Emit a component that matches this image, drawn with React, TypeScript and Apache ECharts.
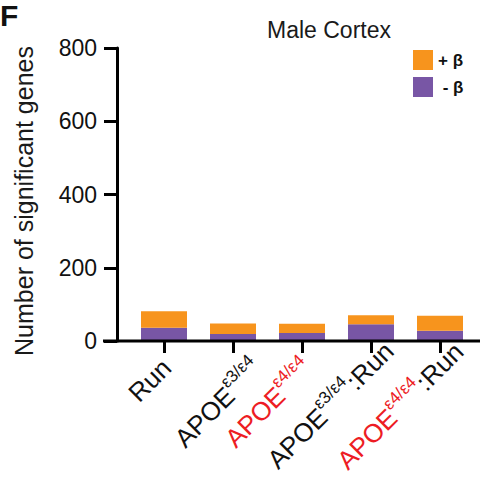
import React, { useEffect, useRef } from "react";
import * as echarts from "echarts";

// Categories on the x axis and their rich-text bodies (superscript genotypes)
const categories = ["Run", "APOE ε3/ε4", "APOE ε4/ε4", "APOE ε3/ε4:Run", "APOE ε4/ε4:Run"];
const categoryBodies = [
  "{b|Run}",
  "{b|APOE}{bs|ε3/ε4}",
  "{r|APOE}{rs|ε4/ε4}",
  "{b|APOE}{bs|ε3/ε4}{b|:Run}",
  "{r|APOE}{rs|ε4/ε4}{b|:Run}",
];

// Number of significant genes, split by sign of the coefficient
const minusBeta = [36, 19, 22, 46, 28];
const plusBeta = [45, 29, 25, 24, 41];

const yTicks = [0, 200, 400, 600, 800];

// Per-label nudges for the slanted category labels: [drop, pull-back] in px
const labelNudge: [number, number][] = [
  [9, 23],
  [25, 8],
  [12, 21],
  [8, 0],
  [9, 0],
];

const ORANGE = "#F7941D";
const PURPLE = "#7856A5";
const RED = "#ED1C24";
const FONT = "Liberation Sans, Arial, sans-serif";

export default function App() {
  const ref = useRef<HTMLDivElement>(null);

  useEffect(() => {
    if (!ref.current) return;
    const chart = echarts.init(ref.current, undefined, { renderer: "svg" });

    const supStyle = (color: string) => ({
      color,
      fontFamily: FONT,
      fontSize: 17,
      lineHeight: 18,
      verticalAlign: "top" as const,
    });
    const mainStyle = (color: string) => ({
      color,
      fontFamily: FONT,
      fontSize: 26,
      lineHeight: 31,
      verticalAlign: "bottom" as const,
    });

    const rich: Record<string, object> = {
      b: mainStyle("#111"),
      bs: supStyle("#111"),
      r: mainStyle(RED),
      rs: supStyle(RED),
    };
    // spacer line above each label and a spacer token after it
    labelNudge.forEach(([drop, back], i) => {
      rich["v" + i] = { fontSize: 1, lineHeight: drop, color: "transparent" };
      rich["h" + i] = {
        fontSize: 1,
        lineHeight: 1,
        color: "transparent",
        verticalAlign: "bottom",
        padding: [0, back, 0, 0],
      };
    });

    const labelText = (i: number) => `{v${i}| }\n${categoryBodies[i]}{h${i}| }`;

    chart.setOption({
      animation: false,
      backgroundColor: "#ffffff",
      title: {
        text: "Male Cortex",
        left: 262,
        top: 13,
        textStyle: { fontFamily: FONT, fontSize: 23, fontWeight: "normal", color: "#1a1a1a" },
      },
      legend: {
        data: ["+ β", "- β"],
        orient: "vertical",
        left: 413,
        top: 50,
        padding: 0,
        itemWidth: 20,
        itemHeight: 20,
        itemGap: 7,
        icon: "rect",
        formatter: (name: string) => (name === "- β" ? " " + name : name),
        textStyle: { fontFamily: FONT, fontSize: 17, fontWeight: "bold", color: "#111" },
      },
      grid: { left: 129.5, width: 345, top: 48, height: 293, containLabel: false },
      xAxis: {
        type: "category",
        data: categories,
        axisLine: { show: false },
        axisTick: { show: true, alignWithLabel: true, length: 12, lineStyle: { color: "#000", width: 3 } },
        axisLabel: {
          rotate: 45,
          margin: -13,
          interval: 0,
          align: "right",
          verticalAlign: "top",
          formatter: (_v: string, i: number) => labelText(i),
          rich,
        },
      },
      yAxis: {
        type: "value",
        min: yTicks[0],
        max: yTicks[yTicks.length - 1],
        interval: 200,
        offset: 12.5,
        name: "Number of significant genes",
        nameLocation: "middle",
        nameRotate: 90,
        nameGap: 81,
        nameTextStyle: { fontFamily: FONT, fontSize: 25, color: "#1a1a1a", padding: [0, 13, 0, 0] },
        axisLine: { show: true, lineStyle: { color: "#000", width: 3 } },
        axisTick: { show: true, length: 13, lineStyle: { color: "#000", width: 3 } },
        axisLabel: { fontFamily: FONT, fontSize: 23, color: "#111", margin: 20 },
        splitLine: { show: false },
      },
      graphic: [
        {
          type: "line",
          shape: { x1: 103, y1: 341, x2: 480, y2: 341 },
          style: { stroke: "#000", lineWidth: 3 },
          z: 10,
        },
        {
          type: "text",
          left: 0,
          top: 0,
          style: {
            text: "F",
            fontFamily: FONT,
            fontSize: 30,
            lineHeight: 26,
            fontWeight: "bold",
            fill: "#111",
          },
        },
      ],
      series: [
        {
          name: "- β",
          type: "bar",
          stack: "total",
          data: minusBeta,
          barWidth: 46,
          itemStyle: { color: PURPLE },
        },
        {
          name: "+ β",
          type: "bar",
          stack: "total",
          data: plusBeta,
          barWidth: 46,
          itemStyle: { color: ORANGE },
        },
      ],
    });

    return () => chart.dispose();
  }, []);

  return (
    <div
      ref={ref}
      style={{ position: "absolute", left: 0, top: 0, width: 480, height: 482 }}
    />
  );
}
